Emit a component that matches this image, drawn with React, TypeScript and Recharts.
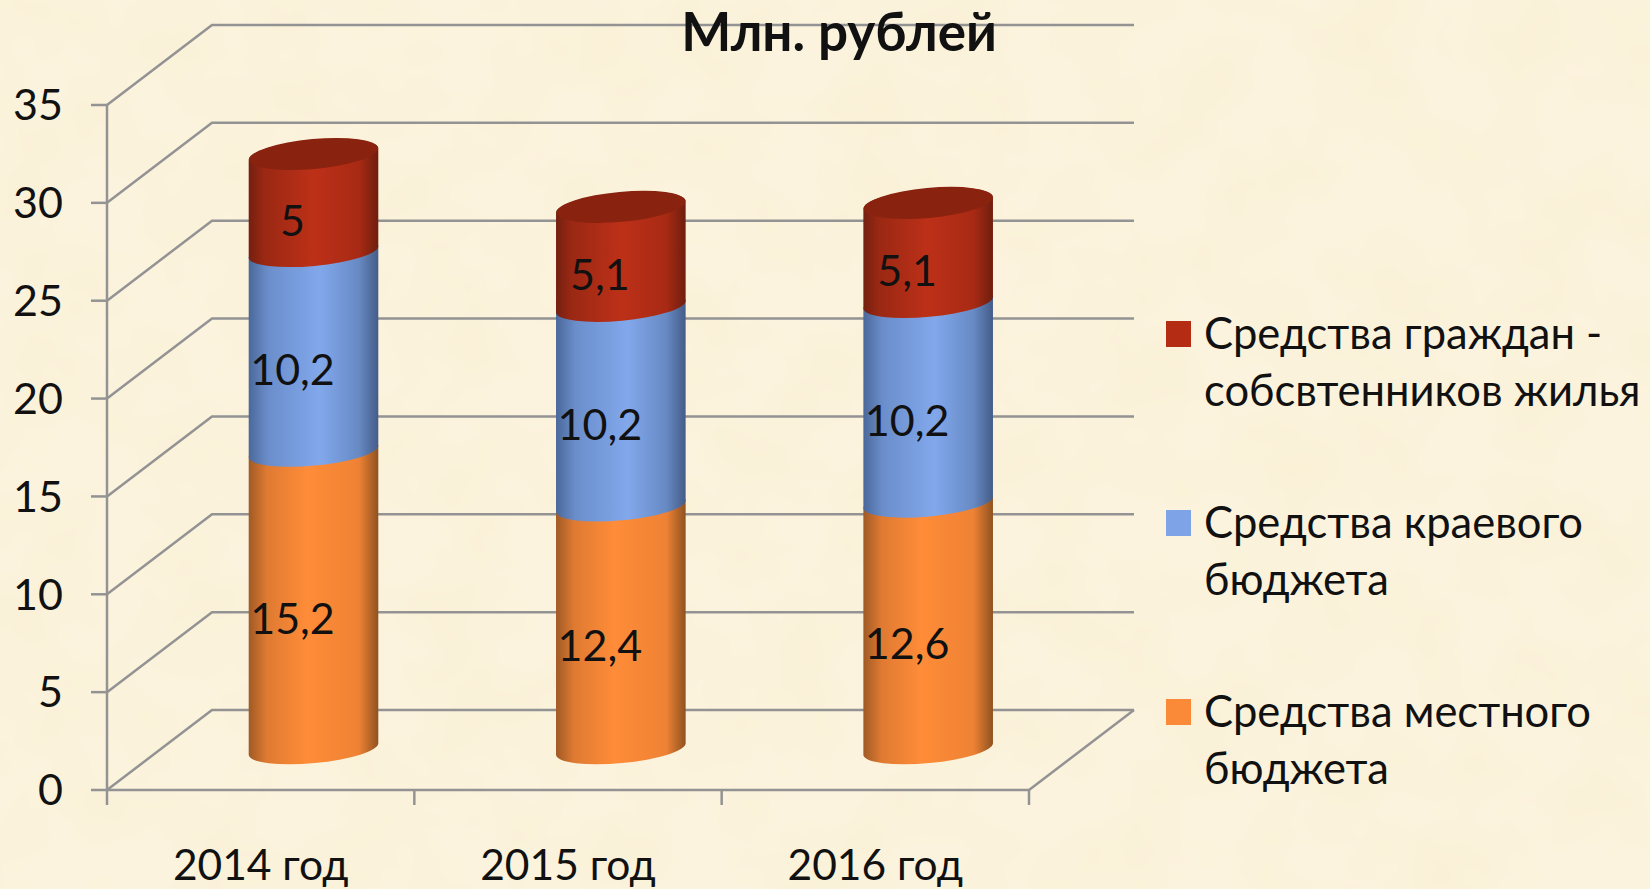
import React from "react";
import { BarChart, Bar, XAxis, YAxis, CartesianGrid, LabelList, Legend } from "recharts";

const categories = ["2014 год", "2015 год", "2016 год"];
const localBudget = [15.2, 12.4, 12.6];
const regionalBudget = [10.2, 10.2, 10.2];
const citizens = [5, 5.1, 5.1];
const yTicks = [0, 5, 10, 15, 20, 25, 30, 35];
const legendLines: Record<string, string[]> = {
  citizens: ["Средства граждан -", "собсвтенников жилья"],
  regional: ["Средства краевого", "бюджета"],
  local: ["Средства местного", "бюджета"],
};
const seriesColors: Record<string, string> = { citizens: "#b52c14", regional: "#7ea3e6", local: "#fb8a38" };
const legendOrder = ["citizens", "regional", "local"];

const table = categories.map((name, i) => ({
  name,
  local: localBudget[i],
  regional: regionalBudget[i],
  citizens: citizens[i],
}));

const FONT = "Lato, 'Open Sans', sans-serif";
const W = 1650;
const H = 889;
const LEFT = 107;
const RIGHT = 1029;
const TOP = 105;
const BOTTOM = 790;
const BAND = (RIGHT - LEFT) / 3;
const WALL_DX = 105;
const WALL_DY = 80;
const CYL_DX = 53;
const CYL_DY = 41;
const LABEL_DX = -21;
const LABEL_DY = 17;
const RX = 64.8;
const RY = 14;
const TILT = -5.3;
const TILT_RISE = 6;
const GRID = "#939393";

const stops: Record<string, [number, string][]> = {
  citizens: [[0, "#742010"], [0.12, "#9a2813"], [0.5, "#bd3018"], [0.85, "#a82a14"], [1, "#6f1e0e"]],
  regional: [[0, "#4a689a"], [0.15, "#6b8ecb"], [0.55, "#82a8ec"], [0.85, "#678ac4"], [1, "#445c88"]],
  local: [[0, "#a05a25"], [0.14, "#df7a32"], [0.45, "#ff8c38"], [0.85, "#ee8234"], [1, "#8f5220"]],
};

const cylinder = (id: string, cap: boolean) => (p: any) => {
  const cx = p.x + p.width / 2 + CYL_DX;
  const yb = p.y + p.height - CYL_DY;
  const yt = p.y - CYL_DY;
  const l = cx - RX;
  const r = cx + RX;
  const arc = `A${RX} ${RY} ${TILT} 0 0`;
  const d = `M${l} ${yb + TILT_RISE} ${arc} ${r} ${yb - TILT_RISE} L${r} ${yt - TILT_RISE} ${arc} ${l} ${yt + TILT_RISE} Z`;
  return (
    <g>
      <path d={d} fill={`url(#grad-${id})`} />
      {cap && <ellipse cx={cx} cy={yt} rx={RX} ry={RY + 1} transform={`rotate(${TILT} ${cx} ${yt})`} fill="#89230f" />}
    </g>
  );
};

const dataLabel = (p: any) => (
  <text
    x={p.x + p.width / 2 + CYL_DX + LABEL_DX}
    y={p.y + p.height / 2 - CYL_DY + LABEL_DY}
    textAnchor="middle"
    dominantBaseline="central"
    fontFamily={FONT}
    fontSize={43}
    fill="#111"
  >
    {String(p.value).replace(".", ",")}
  </text>
);

const gridLine = (p: any) => {
  const bx = p.x1 + WALL_DX;
  const by = p.y1 - WALL_DY;
  const ex = p.x2 + WALL_DX;
  const floor = p.y1 >= BOTTOM - 1;
  return (
    <g key={p.key}>
      <path d={`M${p.x1} ${p.y1} L${bx} ${by} L${ex} ${by}`} fill="none" stroke={GRID} strokeWidth={2.5} />
      {floor && <path d={`M${p.x2} ${p.y1} L${ex} ${by}`} fill="none" stroke={GRID} strokeWidth={2.5} />}
    </g>
  );
};

const xTick = (p: any) => {
  const left = p.x - BAND / 2;
  const last = p.index === categories.length - 1;
  return (
    <g>
      <line x1={left} x2={left} y1={BOTTOM} y2={BOTTOM + 15} stroke={GRID} strokeWidth={2.5} />
      {last && <line x1={left + BAND} x2={left + BAND} y1={BOTTOM} y2={BOTTOM + 15} stroke={GRID} strokeWidth={2.5} />}
      <text x={p.x} y={880} textAnchor="middle" fontFamily={FONT} fontSize={42.5} fill="#111">
        {p.payload.value}
      </text>
    </g>
  );
};

const legendContent = () => (
  <div style={{ fontFamily: FONT, fontSize: 43.5, lineHeight: "57px", color: "#111" }}>
    {legendOrder.map((k, i) => (
      <div key={k} style={{ position: "absolute", left: 0, top: [0, 189, 378][i], whiteSpace: "nowrap" }}>
        <div style={{ position: "absolute", left: 0, top: 17, width: 25, height: 26, background: seriesColors[k] }} />
        <div style={{ marginLeft: 38 }}>
          {legendLines[k].map((t) => (
            <div key={t}>{t}</div>
          ))}
        </div>
      </div>
    ))}
  </div>
);

export default function App() {
  return (
    <div style={{ position: "absolute", left: 0, top: 0, width: W, height: H, background: "#fcf3de", overflow: "hidden" }}>
      <svg width={W} height={H} style={{ position: "absolute", left: 0, top: 0 }}>
        <filter id="paper" x="0" y="0" width="100%" height="100%">
          <feTurbulence type="fractalNoise" baseFrequency="0.012" numOctaves={3} seed={7} />
          <feColorMatrix values="0 0 0 0 0.93  0 0 0 0 0.85  0 0 0 0 0.62  0.9 0 0 0 -0.32" />
        </filter>
        <rect width={W} height={H} filter="url(#paper)" />
      </svg>
      <BarChart
        width={W}
        height={H}
        data={table}
        margin={{ top: TOP, right: W - RIGHT, bottom: 0, left: 0 }}
        style={{ position: "absolute", left: 0, top: 0 }}
      >
        <defs>
          {Object.keys(stops).map((k) => (
            <linearGradient key={k} id={`grad-${k}`} x1="0" y1="0" x2="1" y2="0">
              {stops[k].map(([o, c]) => (
                <stop key={o} offset={o} stopColor={c} />
              ))}
            </linearGradient>
          ))}
        </defs>
        <CartesianGrid horizontal={gridLine} vertical={false} />
        <XAxis
          dataKey="name"
          height={H - BOTTOM}
          tick={xTick}
          tickLine={false}
          tickSize={0}
          axisLine={{ stroke: GRID, strokeWidth: 2.5 }}
          interval={0}
        />
        <YAxis
          width={LEFT}
          domain={[0, 35]}
          ticks={yTicks}
          interval={0}
          tickSize={16}
          tickMargin={28}
          tick={{ fontFamily: FONT, fontSize: 43, fill: "#111" }}
          tickLine={{ stroke: GRID, strokeWidth: 2.5 }}
          axisLine={{ stroke: GRID, strokeWidth: 2.5 }}
        />
        <Bar dataKey="local" stackId="a" barSize={129} isAnimationActive={false} shape={cylinder("local", false)}>
          <LabelList dataKey="local" content={dataLabel} />
        </Bar>
        <Bar dataKey="regional" stackId="a" barSize={129} isAnimationActive={false} shape={cylinder("regional", false)}>
          <LabelList dataKey="regional" content={dataLabel} />
        </Bar>
        <Bar dataKey="citizens" stackId="a" barSize={129} isAnimationActive={false} shape={cylinder("citizens", true)}>
          <LabelList dataKey="citizens" content={dataLabel} />
        </Bar>
        <Legend
          content={legendContent}
          wrapperStyle={{ position: "absolute", left: 1166, top: 304, width: 480, height: 0, bottom: "auto" }}
        />
      </BarChart>
      <div
        style={{
          position: "absolute",
          left: 0,
          width: 1678,
          top: -1,
          textAlign: "center",
          fontFamily: FONT,
          fontWeight: 700,
          fontSize: 53,
          lineHeight: "64px",
          color: "#111",
        }}
      >
        Млн. рублей
      </div>
    </div>
  );
}
